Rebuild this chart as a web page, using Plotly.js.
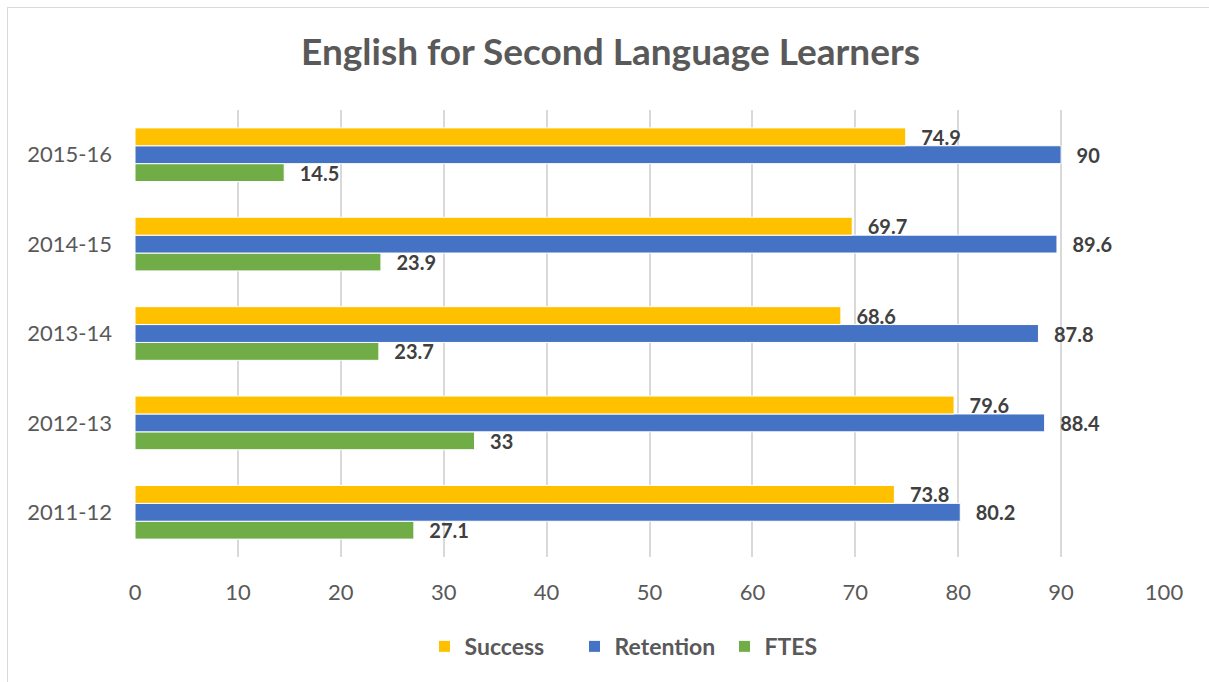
<!DOCTYPE html>
<html>
<head>
<meta charset="utf-8">
<script src="https://cdn.plot.ly/plotly-3.0.1.min.js"></script>
<style>
html,body{margin:0;padding:0;background:#fff;overflow:hidden;}
#chart{width:1209px;height:682px;}
#frame{position:absolute;left:7px;top:7px;width:1400px;height:900px;border:1.5px solid #D9D9D9;pointer-events:none;}
</style>
</head>
<body>
<div id="chart"></div>
<div id="frame"></div>
<script>
const categories = ["2011-12", "2012-13", "2013-14", "2014-15", "2015-16"];
const success = [73.8, 79.6, 68.6, 69.7, 74.9];
const retention = [80.2, 88.4, 87.8, 89.6, 90];
const ftes = [27.1, 33, 23.7, 23.9, 14.5];
const xTicks = [0, 10, 20, 30, 40, 50, 60, 70, 80, 90, 100];

const FONT = "Lato, 'Open Sans', sans-serif";
function bar(name, vals, color, rank) {
  return {
    type: "bar", orientation: "h", name: name,
    y: categories, x: vals,
    marker: {color: color, line: {color: "#ffffff", width: 1}},
    texttemplate: "\u2002\u2009%{x}", textposition: "outside", constraintext: "none",
    textfont: {family: FONT, size: 20, color: "#404040", weight: "bold"},
    cliponaxis: false, legendrank: rank, hoverinfo: "x+name"
  };
}
const data = [
  bar("FTES", ftes, "#70AD47", 3),
  bar("Retention", retention, "#4472C4", 2),
  bar("Success", success, "#FFC000", 1)
];
const layout = {
  width: 1209, height: 682,
  margin: {l: 135, r: 45, t: 110, b: 125},
  paper_bgcolor: "#ffffff", plot_bgcolor: "#ffffff",
  barmode: "group", bargap: 0.4, bargroupgap: 0,
  uniformtext: {mode: false},
  title: {text: "<b>English for Second Language Learners</b>", x: 0.505, xanchor: "center", y: 0.923, yanchor: "middle",
    font: {family: FONT, size: 37, color: "#595959"}},
  xaxis: {range: [0, 100], tickvals: xTicks, showgrid: true, gridcolor: "#D9D9D9", gridwidth: 2,
    zeroline: false, showline: false, ticks: "", ticklen: 0, ticklabelstandoff: 20,
    tickfont: {family: FONT, size: 22, color: "#595959"}, fixedrange: true},
  yaxis: {type: "category", categoryorder: "array", categoryarray: categories,
    showgrid: false, zeroline: false, showline: false, ticks: "", ticklabelstandoff: 22,
    tickfont: {family: FONT, size: 22, color: "#595959"}, fixedrange: true},
  legend: {orientation: "h", x: 0.5, xanchor: "center", y: -0.2, yanchor: "middle",
    font: {family: FONT, size: 23, color: "#595959", weight: "bold"}, itemwidth: 30,
    entrywidth: 105, entrywidthmode: "pixels"},
  showlegend: true
};
Plotly.newPlot("chart", data, layout, {displayModeBar: false, staticPlot: true});
</script>
</body>
</html>
